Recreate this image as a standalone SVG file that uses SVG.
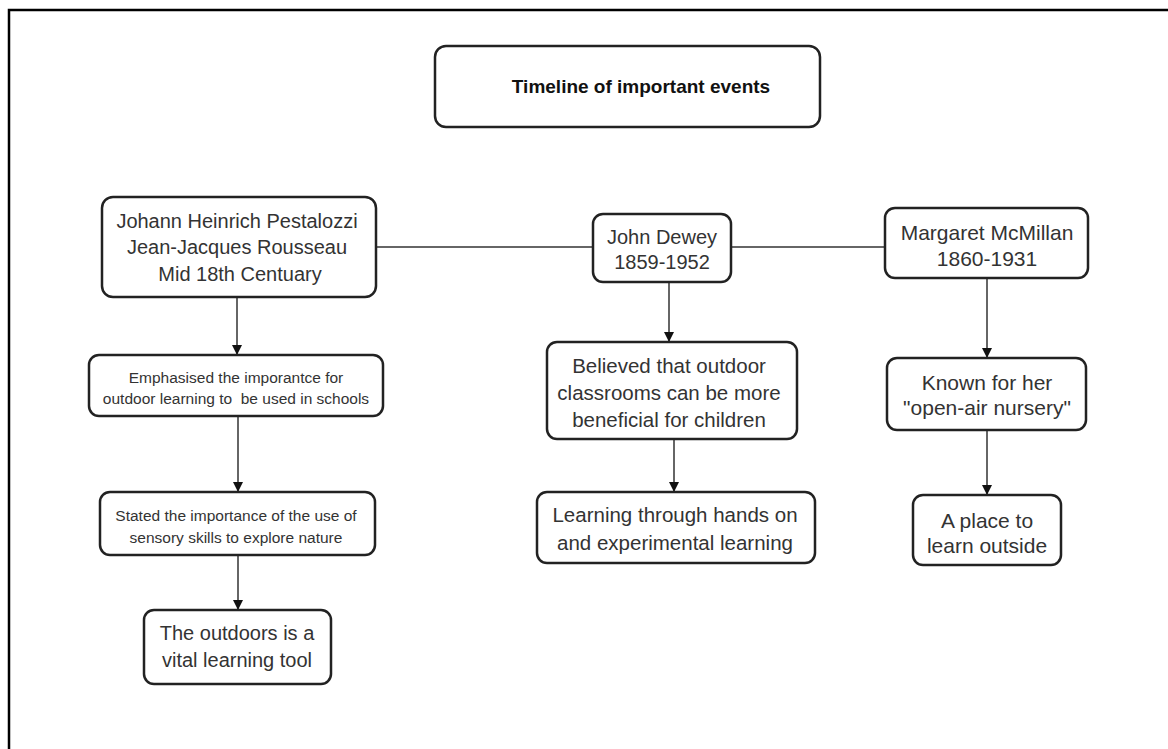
<svg xmlns="http://www.w3.org/2000/svg" width="1168" height="749" viewBox="0 0 1168 749">
<style>
.box{fill:#fff;stroke:#222;stroke-width:2.5}
.t{font-family:"Liberation Sans",Arial,sans-serif;fill:#333;text-anchor:middle;dominant-baseline:central;white-space:pre}
.ln{stroke:#333;stroke-width:1.5;fill:none}
</style>
<defs>
<marker id="ah" viewBox="0 0 10 10" refX="10" refY="5" markerWidth="10" markerHeight="10" markerUnits="userSpaceOnUse" orient="auto">
<path d="M0,0 L10,5 L0,10 z" fill="#111"/>
</marker>
</defs>
<rect width="1168" height="749" fill="#fff"/>
<path d="M9,749 V10 H1168" fill="none" stroke="#000" stroke-width="2.5"/>
<g id="connectors">
<line class="ln" x1="376" y1="247" x2="593" y2="247"/>
<line class="ln" x1="731" y1="247" x2="885" y2="247"/>
<line class="ln" x1="237" y1="297" x2="237" y2="355" marker-end="url(#ah)"/>
<line class="ln" x1="238" y1="416" x2="238" y2="492" marker-end="url(#ah)"/>
<line class="ln" x1="238" y1="555" x2="238" y2="610" marker-end="url(#ah)"/>
<line class="ln" x1="669" y1="282" x2="669" y2="342" marker-end="url(#ah)"/>
<line class="ln" x1="674" y1="439" x2="674" y2="492" marker-end="url(#ah)"/>
<line class="ln" x1="987" y1="278" x2="987" y2="358" marker-end="url(#ah)"/>
<line class="ln" x1="987" y1="430" x2="987" y2="495" marker-end="url(#ah)"/>
</g>
<g id="title">
<rect class="box" x="435" y="46" width="385" height="81" rx="11"/>
<text class="t" x="641" y="86" font-size="19" font-weight="bold" style="fill:#111">Timeline of important events</text>
</g>
<g id="pestalozzi">
<rect class="box" x="102" y="197" width="274" height="100" rx="11"/>
<text class="t" x="237" y="221" font-size="20">Johann Heinrich Pestalozzi</text>
<text class="t" x="237" y="247" font-size="20">Jean-Jacques Rousseau</text>
<text class="t" x="240" y="274" font-size="20">Mid 18th Centuary</text>
</g>
<g id="emphasised">
<rect class="box" x="89" y="355" width="294" height="61" rx="10"/>
<text class="t" x="236" y="377" font-size="15.5">Emphasised the imporantce for</text>
<text class="t" x="236" y="398" font-size="15.5">outdoor learning to  be used in schools</text>
</g>
<g id="stated">
<rect class="box" x="100" y="492" width="275" height="63" rx="10"/>
<text class="t" x="236" y="515" font-size="15.5">Stated the importance of the use of</text>
<text class="t" x="236" y="537" font-size="15.5">sensory skills to explore nature</text>
</g>
<g id="outdoors">
<rect class="box" x="144" y="610" width="187" height="74" rx="10"/>
<text class="t" x="237" y="633" font-size="20">The outdoors is a</text>
<text class="t" x="237" y="660" font-size="20">vital learning tool</text>
</g>
<g id="dewey">
<rect class="box" x="593" y="214" width="138" height="68" rx="10"/>
<text class="t" x="662" y="237" font-size="20">John Dewey</text>
<text class="t" x="662" y="262" font-size="20">1859-1952</text>
</g>
<g id="believed">
<rect class="box" x="547" y="342" width="250" height="97" rx="10"/>
<text class="t" x="669" y="365" font-size="20.5">Believed that outdoor</text>
<text class="t" x="669" y="392" font-size="20.5">classrooms can be more</text>
<text class="t" x="669" y="419" font-size="20.5">beneficial for children</text>
</g>
<g id="learning">
<rect class="box" x="537" y="492" width="278" height="71" rx="10"/>
<text class="t" x="675" y="514" font-size="20.5">Learning through hands on</text>
<text class="t" x="675" y="542" font-size="20.5">and experimental learning</text>
</g>
<g id="mcmillan">
<rect class="box" x="885" y="208" width="203" height="70" rx="10"/>
<text class="t" x="987" y="232" font-size="21">Margaret McMillan</text>
<text class="t" x="987" y="258" font-size="21">1860-1931</text>
</g>
<g id="known">
<rect class="box" x="887" y="358" width="199" height="72" rx="10"/>
<text class="t" x="987" y="382" font-size="21">Known for her</text>
<text class="t" x="987" y="407" font-size="21">"open-air nursery"</text>
</g>
<g id="place">
<rect class="box" x="913" y="495" width="148" height="70" rx="10"/>
<text class="t" x="987" y="520" font-size="21">A place to</text>
<text class="t" x="987" y="545" font-size="21">learn outside</text>
</g>
</svg>
